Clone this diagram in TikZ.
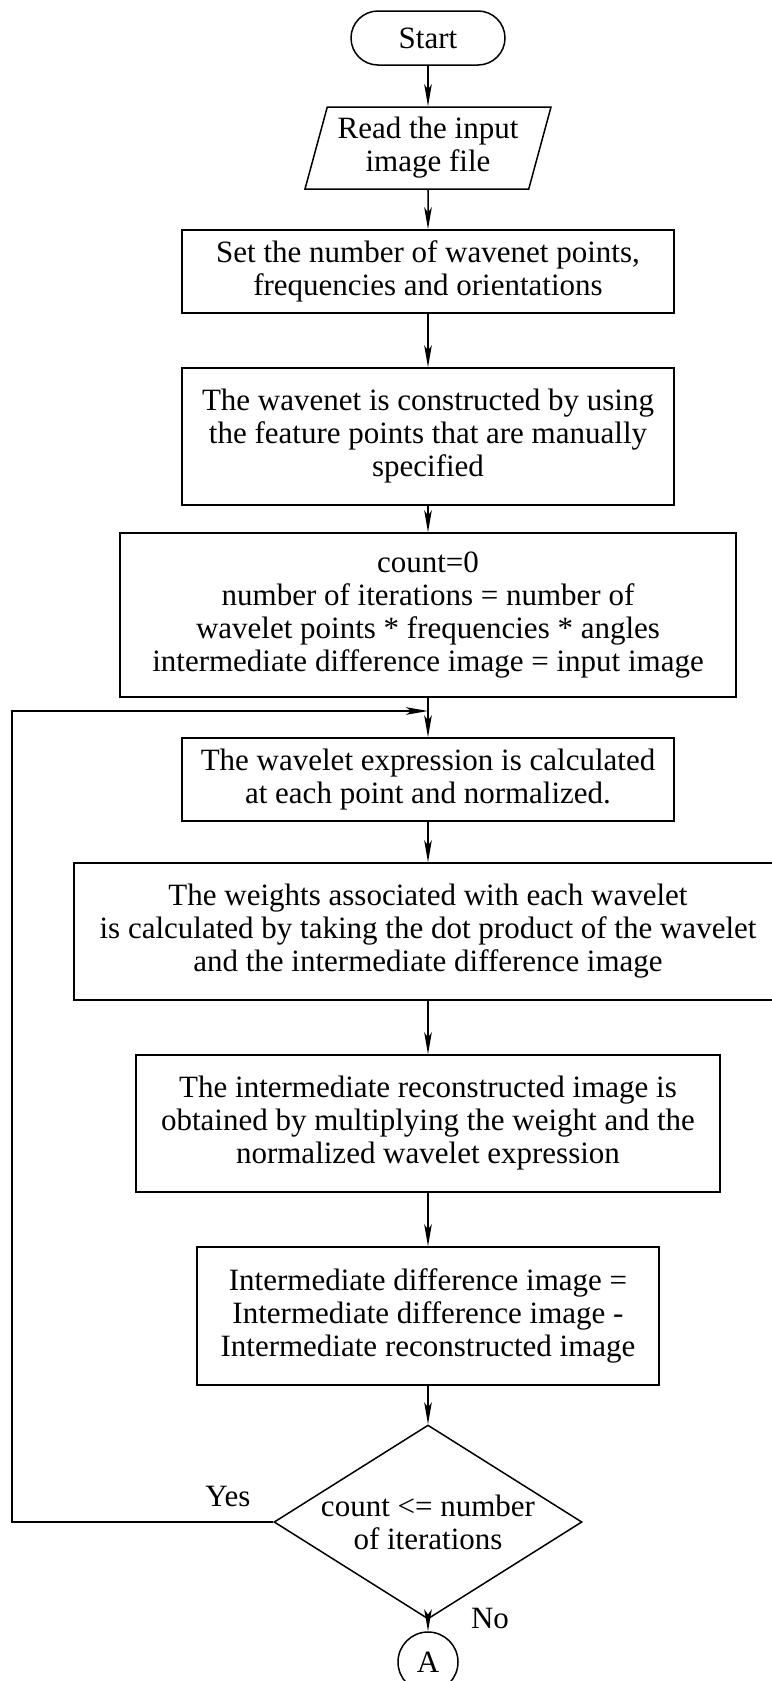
\documentclass[tikz,border=0pt]{standalone}
\usepackage{fontspec}
\setmainfont{Liberation Serif}
\usetikzlibrary{shapes.geometric,arrows.meta}

\begin{document}
\begin{tikzpicture}[>={Stealth[length=11pt, width=3.8pt, inset=2.6pt]}, x=0.5pt, y=-0.5pt, line width=0.75pt,
        every node/.style={font=\fontsize{15.5}{16.5}\selectfont},
        procbox/.style={draw, rectangle, align=center, inner sep=0pt},
        flowarrow/.style={->, line width=0.75pt}]
        \useasboundingbox (0,0) rectangle (771,1681);

        \node[draw, rectangle, rounded corners=13.5pt, minimum width=77pt, minimum height=27pt, inner sep=0pt] (start) at (428,38) {Start};
        \node[draw, trapezium, trapezium left angle=70, trapezium right angle=110, trapezium stretches body, minimum width=123pt, minimum height=41pt, inner sep=0pt, align=center] (read) at (428,148) {Read the input\\image file};

        \node[procbox, minimum width=246pt, minimum height=41.5pt] (setup) at (428,271.5) {Set the number of wavenet points,\\frequencies and orientations};
        \node[procbox, minimum width=246pt, minimum height=68.5pt] (build) at (428,436.5) {The wavenet is constructed by using\\the feature points that are manually\\specified};
        \node[procbox, minimum width=308pt, minimum height=82pt] (init) at (428,615) {count=0\\number of iterations = number of\\wavelet points * frequencies * angles\\intermediate difference image = input image};
        \coordinate (join) at (428,711);
        \node[procbox, minimum width=246pt, minimum height=41.5pt] (expr) at (428,779.5) {The wavelet expression is calculated\\at each point and normalized.};
        \node[procbox, minimum width=354pt, minimum height=68.5pt] (weights) at (428,931.5) {The weights associated with each wavelet\\is calculated by taking the dot product of the wavelet\\and the intermediate difference image};
        \node[procbox, minimum width=292pt, minimum height=68.5pt] (recon) at (428,1123.5) {The intermediate reconstructed image is\\obtained by multiplying the weight and the\\normalized wavelet expression};
        \node[procbox, minimum width=231pt, minimum height=69pt] (update) at (428,1316) {Intermediate difference image =\\Intermediate difference image -\\Intermediate reconstructed image};

        \node[draw, diamond, shape aspect=1.6, minimum width=154pt, minimum height=97pt, inner sep=0pt, align=center] (check) at (428,1522) {count <= number\\of iterations};
        \node[draw, circle, minimum size=30pt, inner sep=0pt] (conA) at (428,1662) {A};
        \coordinate (back) at (12,711);

        \node (yes) at (228,1496) {Yes};
        \node (no) at (490,1618) {No};

        \draw[flowarrow] (start) -- (read);
        \draw[flowarrow] (read) -- (setup);
        \draw[flowarrow] (setup) -- (build);
        \draw[flowarrow] (build) -- (init);
        \draw[flowarrow] (init) -- (expr);
        \draw[flowarrow] (expr) -- (weights);
        \draw[flowarrow] (weights) -- (recon);
        \draw[flowarrow] (recon) -- (update);
        \draw[flowarrow] (update) -- (check);
        \draw[flowarrow] (check) -- (conA);
        \draw[flowarrow] (check.west) -| (back) -- (join);
    \end{tikzpicture}
\end{document}
